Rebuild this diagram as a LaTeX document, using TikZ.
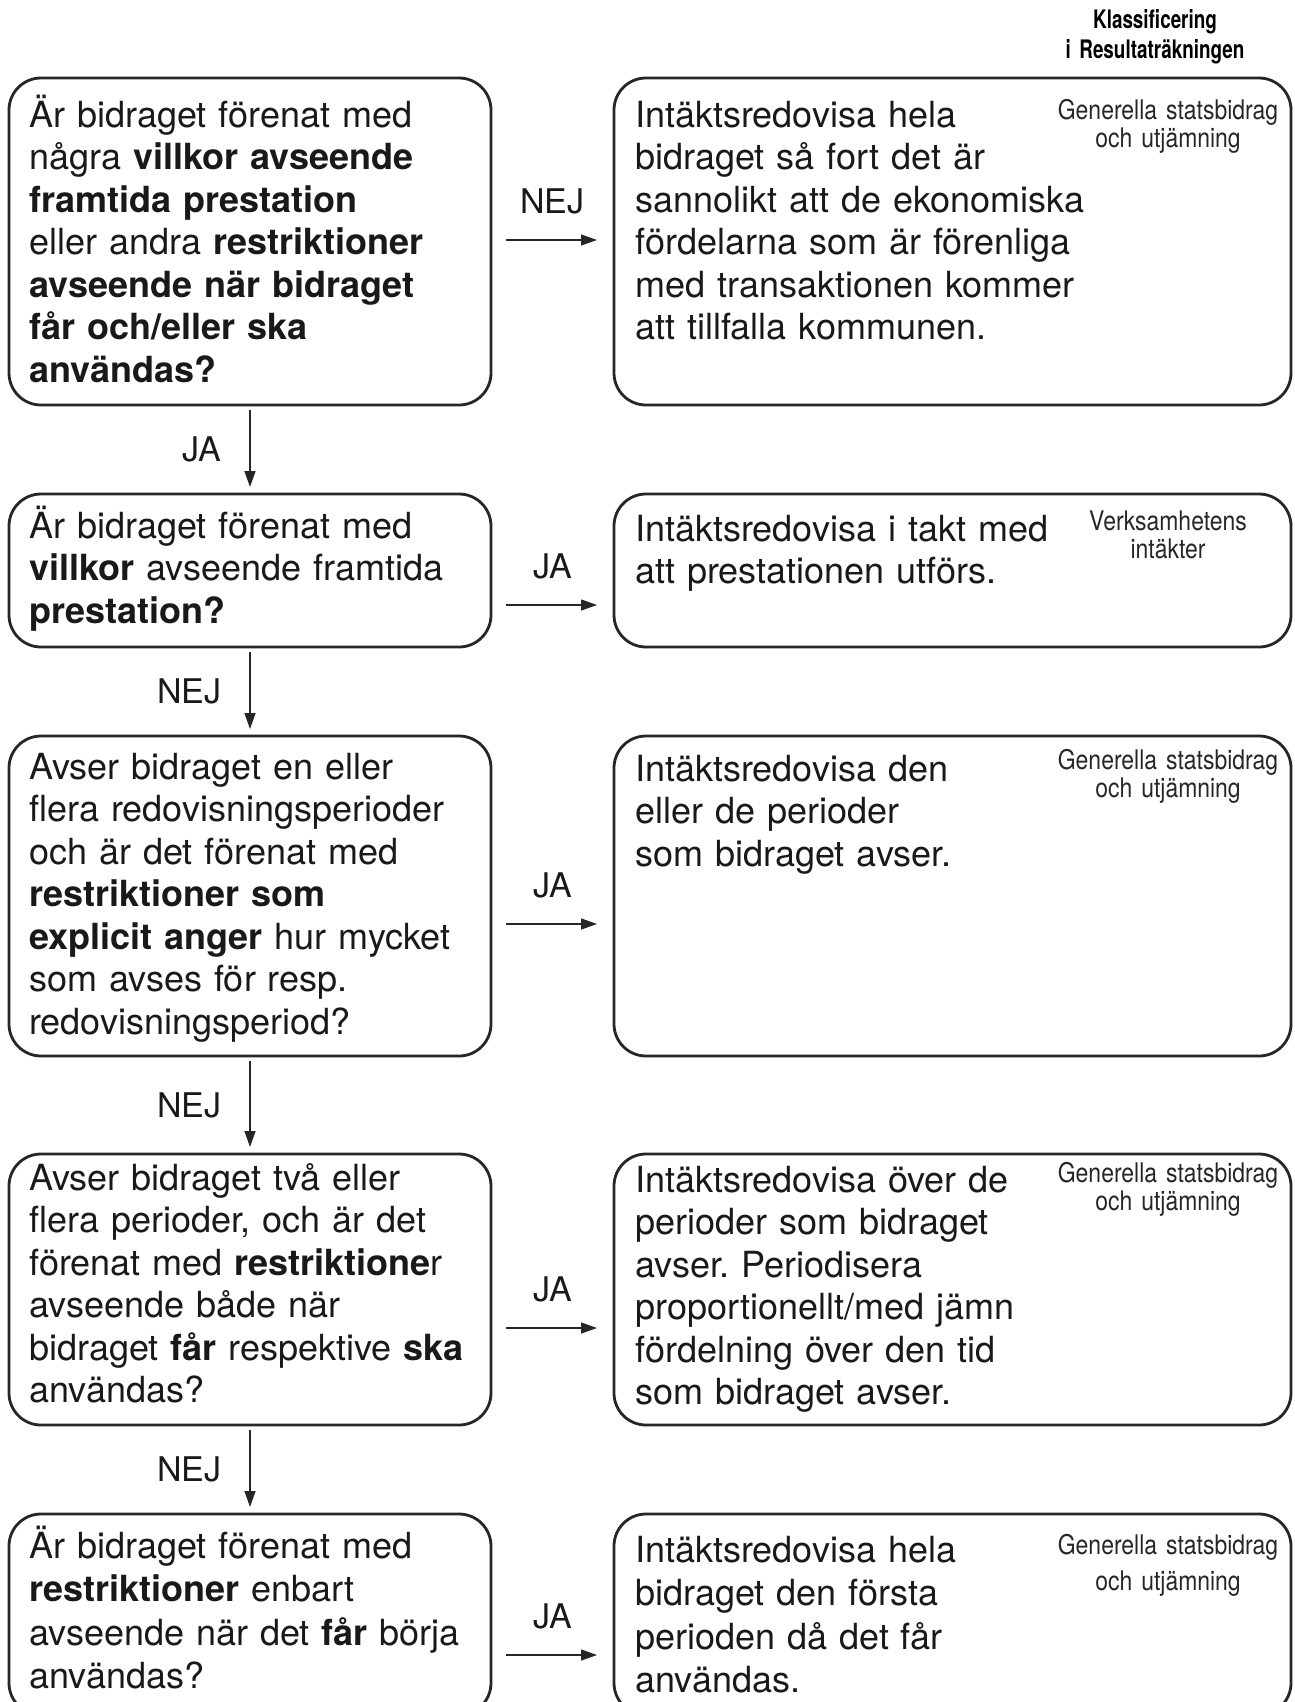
\documentclass[tikz,border=0pt]{standalone}
\usepackage{fontspec}
\setmainfont{TeX Gyre Heros}
\newfontfamily\condfont[FakeStretch=0.85]{TeX Gyre Heros}
\newfontfamily\condbold[FakeStretch=0.74]{TeX Gyre Heros Bold}
\usetikzlibrary{arrows.meta}
\frenchspacing
\begin{document}
\begin{tikzpicture}[x=1pt,y=-1pt,
  box/.style={draw=black!85, line width=2.8pt, rounded corners=32pt, inner sep=0pt, outer sep=0pt},
  lbox/.style={box, minimum width=482pt},
  rbox/.style={box, minimum width=677pt},
  maintext/.style={anchor=base west, inner sep=0pt, text width=470pt, align=left,
     font=\fontsize{36}{42.5}\selectfont, text=black!90},
  lastmain/.style={maintext, font=\fontsize{36}{43.5}\selectfont},
  tag/.style={anchor=base, inner sep=0pt, text width=260pt, align=center,
     font=\condfont\fontsize{27}{28.5}\selectfont, text=black!85},
  arr/.style={line width=1.3pt, draw=black!85, -{Triangle[length=16pt,width=11pt]}},
  lbl/.style={inner sep=0pt, font=\fontsize{34}{40}\selectfont, text=black!90},
  harr/.style={arr, shorten <=15pt, shorten >=17pt},
  varr/.style={arr, shorten <=5pt, shorten >=7pt}
]
\useasboundingbox (0,0) rectangle (1294,1702);

% header
\node[anchor=base, inner sep=0pt, text width=260pt, align=center,
  font=\condbold\fontsize{25.5}{29.5}\selectfont] (hdr) at (1155,29)
  {Klassificering\\i Resultaträkningen};

% boxes
\node[lbox, minimum height=327pt] (q1) at (250,241.5) {};
\node[rbox, minimum height=327pt] (r1) at (952.5,241.5) {};
\node[lbox, minimum height=153pt] (q2) at (250,570.5) {};
\node[rbox, minimum height=153pt] (r2) at (952.5,570.5) {};
\node[lbox, minimum height=320pt] (q3) at (250,896) {};
\node[rbox, minimum height=320pt] (r3) at (952.5,896) {};
\node[lbox, minimum height=271pt] (q4) at (250,1289.5) {};
\node[rbox, minimum height=271pt] (r4) at (952.5,1289.5) {};
\node[lbox, minimum height=201pt] (q5) at (250,1614.5) {};
\node[rbox, minimum height=201pt] (r5) at (952.5,1614.5) {};

% texts, left column
\node[maintext] (tq1) at (29,127) {Är bidraget förenat med\\
några \textbf{villkor avseende}\\
\textbf{framtida prestation}\\
eller andra \textbf{restriktioner}\\
\textbf{avseende när bidraget}\\
\textbf{får och/eller ska}\\
\textbf{användas?}};
\node[maintext] (tq2) at (29,538) {Är bidraget förenat med\\
\textbf{villkor} avseende framtida\\
\textbf{prestation?}};
\node[maintext] (tq3) at (29,779) {Avser bidraget en eller\\
flera redovisningsperioder\\
och är det förenat med\\
\textbf{restriktioner som}\\
\textbf{explicit anger} hur mycket\\
som avses för resp.\\
redovisningsperiod?};
\node[maintext] (tq4) at (29,1190) {Avser bidraget två eller\\
flera perioder, och är det\\
förenat med \textbf{restriktione}r\\
avseende både när\\
bidraget \textbf{får} respektive \textbf{ska}\\
användas?};
\node[lastmain] (tq5) at (29,1558) {Är bidraget förenat med\\
\textbf{restriktioner} enbart\\
avseende när det \textbf{får} börja\\
användas?};

% texts, right column
\node[maintext] (tr1) at (635,127) {Intäktsredovisa hela\\
bidraget så fort det är\\
sannolikt att de ekonomiska\\
fördelarna som är förenliga\\
med transaktionen kommer\\
att tillfalla kommunen.};
\node[maintext] (tr2) at (635,541) {Intäktsredovisa i takt med\\
att prestationen utförs.};
\node[maintext] (tr3) at (635,781) {Intäktsredovisa den\\
eller de perioder\\
som bidraget avser.};
\node[maintext] (tr4) at (635,1192) {Intäktsredovisa över de\\
perioder som bidraget\\
avser. Periodisera\\
proportionellt/med jämn\\
fördelning över den tid\\
som bidraget avser.};
\node[lastmain] (tr5) at (635,1562) {Intäktsredovisa hela\\
bidraget den första\\
perioden då det får\\
användas.};

% tags
\node[tag] (g1) at (1168,119) {Generella statsbidrag\\och utjämning};
\node[tag] (g2) at (1168,530) {Verksamhetens\\intäkter};
\node[tag] (g3) at (1168,769) {Generella statsbidrag\\och utjämning};
\node[tag] (g4) at (1168,1182) {Generella statsbidrag\\och utjämning};
\node[tag, font=\condfont\fontsize{27}{36}\selectfont] (g5) at (1168,1554) {Generella statsbidrag\\och utjämning};

% arrow heights
\coordinate (y1) at (0,240);
\coordinate (y2) at (0,605);
\coordinate (y3) at (0,924);
\coordinate (y4) at (0,1328);
\coordinate (y5) at (0,1655);

% horizontal arrows
\draw[harr] (q1.east |- y1) -- node[lbl, above=25pt] (l1) {NEJ} (r1.west |- y1);
\draw[harr] (q2.east |- y2) -- node[lbl, above=25pt] (l2) {JA} (r2.west |- y2);
\draw[harr] (q3.east |- y3) -- node[lbl, above=25pt] (l3) {JA} (r3.west |- y3);
\draw[harr] (q4.east |- y4) -- node[lbl, above=25pt] (l4) {JA} (r4.west |- y4);
\draw[harr] (q5.east |- y5) -- node[lbl, above=25pt] (l5) {JA} (r5.west |- y5);

% vertical arrows
\draw[varr] (q1.south) -- node[lbl, left=28pt] (v1) {JA} (q2.north);
\draw[varr] (q2.south) -- node[lbl, left=28pt] (v2) {NEJ} (q3.north);
\draw[varr] (q3.south) -- node[lbl, left=28pt] (v3) {NEJ} (q4.north);
\draw[varr] (q4.south) -- node[lbl, left=28pt] (v4) {NEJ} (q5.north);
\end{tikzpicture}
\end{document}
